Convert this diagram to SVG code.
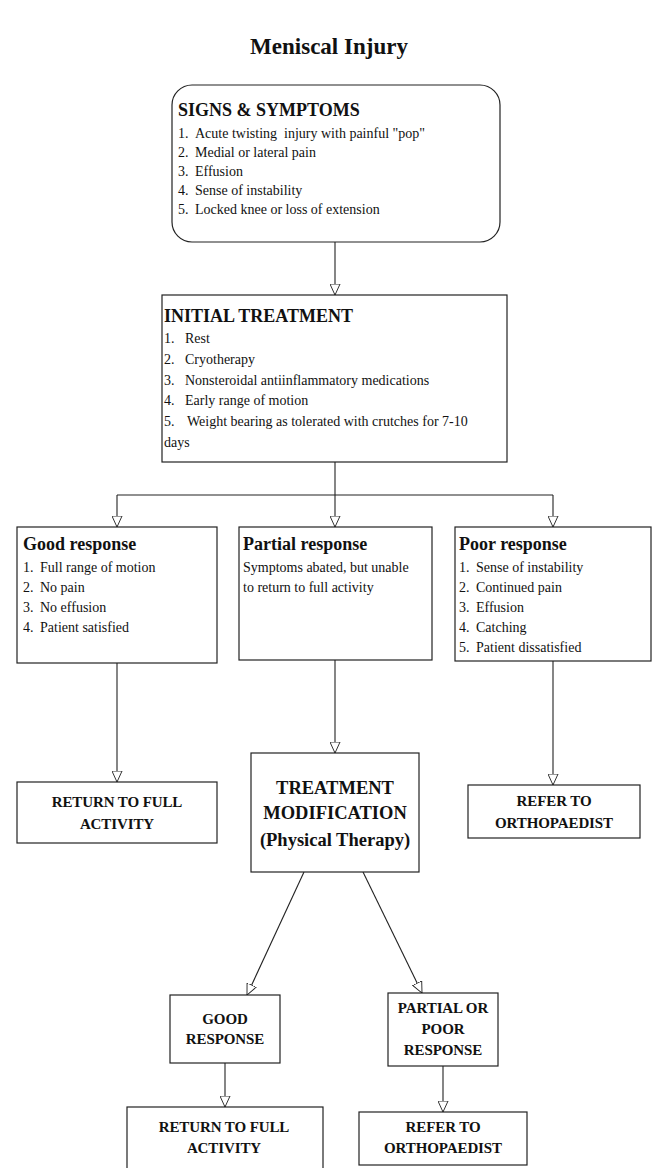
<svg xmlns="http://www.w3.org/2000/svg" width="657" height="1168" viewBox="0 0 657 1168">
  <style>
    .box { fill: #fff; stroke: #222; stroke-width: 1.2; }
    .edge { fill: none; stroke: #222; stroke-width: 1.1; }
    text { font-family: "Liberation Serif", "Times New Roman", serif; fill: #111; }
    .title { font-size: 23px; font-weight: bold; text-anchor: middle; }
    .head { font-size: 18px; font-weight: bold; }
    .item { font-size: 14px; }
    .cap { font-size: 15px; font-weight: bold; text-anchor: middle; letter-spacing: -0.1px; }
    .big { font-size: 18.5px; font-weight: bold; text-anchor: middle; }
  </style>
  <defs>
    <marker id="tri" viewBox="0 0 12 12" refX="12" refY="6" markerWidth="11" markerHeight="11" markerUnits="userSpaceOnUse" orient="auto">
      <path d="M0,0.5 L12,6 L0,11.5 Z" fill="#fff" stroke="#222" stroke-width="1"/>
    </marker>
  </defs>

  <rect width="657" height="1168" fill="#fff"/>

  <text class="title" x="329" y="54">Meniscal Injury</text>

  <!-- connectors -->
  <g id="connectors">
    <line class="edge" x1="335" y1="242" x2="335" y2="295" marker-end="url(#tri)"/>
    <line class="edge" x1="335" y1="462" x2="335" y2="495"/>
    <line class="edge" x1="117" y1="495" x2="553" y2="495"/>
    <line class="edge" x1="117" y1="495" x2="117" y2="527" marker-end="url(#tri)"/>
    <line class="edge" x1="335" y1="495" x2="335" y2="527" marker-end="url(#tri)"/>
    <line class="edge" x1="553" y1="495" x2="553" y2="527" marker-end="url(#tri)"/>
    <line class="edge" x1="117" y1="663" x2="117" y2="782" marker-end="url(#tri)"/>
    <line class="edge" x1="335" y1="660" x2="335" y2="753" marker-end="url(#tri)"/>
    <line class="edge" x1="553" y1="661" x2="553" y2="785" marker-end="url(#tri)"/>
    <line class="edge" x1="304" y1="872" x2="247" y2="995" marker-end="url(#tri)"/>
    <line class="edge" x1="363" y1="872" x2="422" y2="993" marker-end="url(#tri)"/>
    <line class="edge" x1="225" y1="1063" x2="225" y2="1107" marker-end="url(#tri)"/>
    <line class="edge" x1="443" y1="1066" x2="443" y2="1112" marker-end="url(#tri)"/>
  </g>

  <g id="signs">
    <rect class="box" x="172" y="85" width="328" height="157" rx="20" ry="20"/>
    <text class="head" x="178" y="116">SIGNS &amp; SYMPTOMS</text>
    <text class="item" y="138"><tspan x="178">1.</tspan><tspan x="195" style="white-space:pre">Acute twisting  injury with painful "pop"</tspan></text>
    <text class="item" y="157"><tspan x="178">2.</tspan><tspan x="195">Medial or lateral pain</tspan></text>
    <text class="item" y="176"><tspan x="178">3.</tspan><tspan x="195">Effusion</tspan></text>
    <text class="item" y="195"><tspan x="178">4.</tspan><tspan x="195">Sense of instability</tspan></text>
    <text class="item" y="214"><tspan x="178">5.</tspan><tspan x="195">Locked knee or loss of extension</tspan></text>
  </g>

  <g id="initial">
    <rect class="box" x="162" y="295" width="345" height="167"/>
    <text class="head" x="164" y="322">INITIAL TREATMENT</text>
    <text class="item" y="343"><tspan x="164">1.</tspan><tspan x="185">Rest</tspan></text>
    <text class="item" y="364"><tspan x="164">2.</tspan><tspan x="185">Cryotherapy</tspan></text>
    <text class="item" y="385"><tspan x="164">3.</tspan><tspan x="185">Nonsteroidal antiinflammatory medications</tspan></text>
    <text class="item" y="405"><tspan x="164">4.</tspan><tspan x="185">Early range of motion</tspan></text>
    <text class="item" y="426"><tspan x="164">5.</tspan><tspan x="187">Weight bearing as tolerated with crutches for 7-10</tspan></text>
    <text class="item" x="164" y="447">days</text>
  </g>

  <g id="good">
    <rect class="box" x="17" y="527" width="200" height="136"/>
    <text class="head" x="23" y="550">Good response</text>
    <text class="item" y="572"><tspan x="23">1.</tspan><tspan x="40">Full range of motion</tspan></text>
    <text class="item" y="592"><tspan x="23">2.</tspan><tspan x="40">No pain</tspan></text>
    <text class="item" y="612"><tspan x="23">3.</tspan><tspan x="40">No effusion</tspan></text>
    <text class="item" y="632"><tspan x="23">4.</tspan><tspan x="40">Patient satisfied</tspan></text>
  </g>

  <g id="partial">
    <rect class="box" x="239" y="527" width="193" height="133"/>
    <text class="head" x="243" y="550">Partial response</text>
    <text class="item" x="243" y="572">Symptoms abated, but unable</text>
    <text class="item" x="243" y="592">to return to full activity</text>
  </g>

  <g id="poor">
    <rect class="box" x="455" y="527" width="196" height="134"/>
    <text class="head" x="459" y="550">Poor response</text>
    <text class="item" y="572"><tspan x="459">1.</tspan><tspan x="476">Sense of instability</tspan></text>
    <text class="item" y="592"><tspan x="459">2.</tspan><tspan x="476">Continued pain</tspan></text>
    <text class="item" y="612"><tspan x="459">3.</tspan><tspan x="476">Effusion</tspan></text>
    <text class="item" y="632"><tspan x="459">4.</tspan><tspan x="476">Catching</tspan></text>
    <text class="item" y="652"><tspan x="459">5.</tspan><tspan x="476">Patient dissatisfied</tspan></text>
  </g>

  <g id="return1">
    <rect class="box" x="17" y="782" width="200" height="61"/>
    <text class="cap" x="117" y="807">RETURN TO FULL</text>
    <text class="cap" x="117" y="829">ACTIVITY</text>
  </g>

  <g id="modification">
    <rect class="box" x="251" y="753" width="168" height="119"/>
    <text class="big" x="335" y="794">TREATMENT</text>
    <text class="big" x="335" y="819">MODIFICATION</text>
    <text class="big" x="335" y="846">(Physical Therapy)</text>
  </g>

  <g id="refer1">
    <rect class="box" x="468" y="785" width="172" height="53"/>
    <text class="cap" x="554" y="806">REFER TO</text>
    <text class="cap" x="554" y="828">ORTHOPAEDIST</text>
  </g>

  <g id="good2">
    <rect class="box" x="170" y="995" width="110" height="68"/>
    <text class="cap" x="225" y="1024">GOOD</text>
    <text class="cap" x="225" y="1044">RESPONSE</text>
  </g>

  <g id="partial2">
    <rect class="box" x="388" y="993" width="110" height="73"/>
    <text class="cap" x="443" y="1013">PARTIAL OR</text>
    <text class="cap" x="443" y="1034">POOR</text>
    <text class="cap" x="443" y="1055">RESPONSE</text>
  </g>

  <g id="return2">
    <rect class="box" x="127" y="1107" width="196" height="70"/>
    <text class="cap" x="224" y="1132">RETURN TO FULL</text>
    <text class="cap" x="224" y="1153">ACTIVITY</text>
  </g>

  <g id="refer2">
    <rect class="box" x="359" y="1112" width="168" height="53"/>
    <text class="cap" x="443" y="1132">REFER TO</text>
    <text class="cap" x="443" y="1153">ORTHOPAEDIST</text>
  </g>
</svg>
